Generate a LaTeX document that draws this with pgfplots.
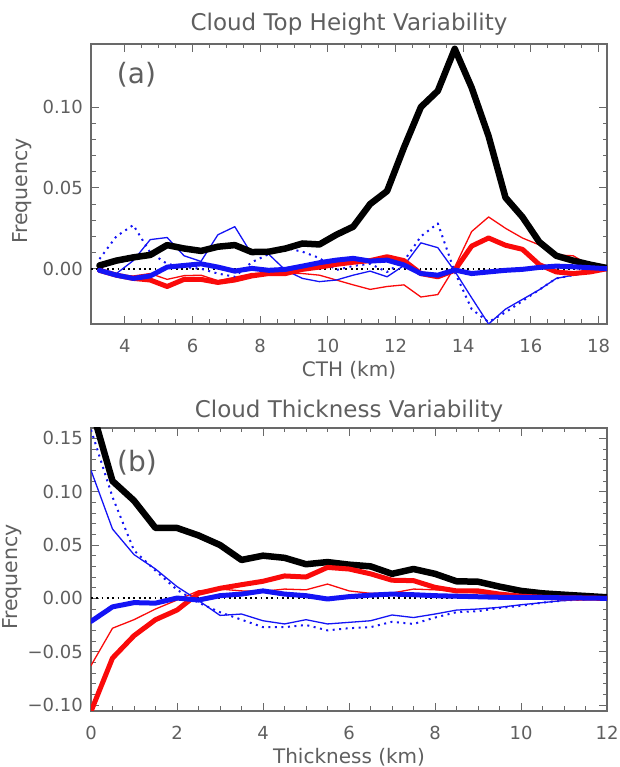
\documentclass[border=0pt]{standalone}
\usepackage{pgfplots}
\pgfplotsset{compat=1.18}
\usepackage{fontspec}
\setmainfont{DejaVu Sans}
\definecolor{txtgray}{RGB}{95,95,95}
\definecolor{axgray}{RGB}{105,105,105}
\definecolor{pblue}{RGB}{20,20,245}
\definecolor{pred}{RGB}{250,10,10}

\pgfplotsset{
  panel/.style={
    scale only axis, width=516pt, anchor=south west,
    axis line style={axgray, line width=1.2pt},
    tick style={axgray, line width=0.9pt},
    major tick length=8pt, minor tick length=4.5pt,
    tick align=inside,
    xticklabel style={anchor=base, yshift=-29pt, inner sep=0pt, text=txtgray, font=\fontsize{18}{18}\selectfont},
    yticklabel style={anchor=east, xshift=-8pt, inner sep=0pt, text=txtgray, font=\fontsize{18}{18}\selectfont},
    clip=true,
    every axis plot/.append style={line join=round, line cap=round},
  },
  zeroline/.style={black, line width=1.8pt, dash pattern=on 1.8pt off 3.5pt, line cap=butt},
  blackthick/.style={black, line width=6.5pt},
  redthick/.style={pred, line width=5pt},
  bluethick/.style={pblue, line width=5pt},
  redthin/.style={pred, line width=1.3pt},
  bluethin/.style={pblue, line width=1.3pt},
  bluedot/.style={pblue, line width=2pt, dash pattern=on 2pt off 4.5pt, line cap=butt},
}

\pgfplotstableread{
x      blk      rthk     rthn     bthk     bthn     bdot
3.25   0.002   -0.001    0.000   -0.001   -0.0004   0.006
3.75   0.005   -0.004   -0.004   -0.004   -0.003    0.020
4.25   0.007   -0.006   -0.0045  -0.006    0.005    0.027
4.75   0.0085  -0.007   -0.003   -0.0045   0.018    0.010
5.25   0.0146  -0.011   -0.0066   0.001    0.0193   0.003
5.75   0.0125  -0.0066  -0.0043   0.002    0.008    0.001
6.25   0.011   -0.0066  -0.004    0.003    0.0045   0.000
6.75   0.0136  -0.0085  -0.0074   0.001    0.021   -0.003
7.25   0.0146  -0.007   -0.0053  -0.0015   0.026   -0.005
7.75   0.0103  -0.0045  -0.003    0.0002   0.009    0.004
8.25   0.0105  -0.003   -0.0025  -0.001    0.009    0.009
8.75   0.0125  -0.003   -0.003   -0.0004  -0.001    0.0128
9.25   0.0156  -0.0004  -0.003    0.0016  -0.006    0.0105
9.75   0.015    0.001   -0.004    0.0037  -0.008    0.0066
10.25  0.021    0.0027  -0.007    0.0053  -0.007   -0.0008
10.75  0.026    0.004   -0.010    0.0064  -0.004    0.0017
11.25  0.040    0.005   -0.0128   0.0047  -0.0015   0.003
11.75  0.048    0.0074  -0.011    0.0053  -0.005   -0.002
12.25  0.075    0.005   -0.010    0.0023   0.002    0.0048
12.75  0.100   -0.003   -0.0175  -0.003    0.016    0.020
13.25  0.110   -0.005   -0.016   -0.004    0.013    0.028
13.75  0.136   -0.001    0.001   -0.0008  -0.0015  -0.002
14.25  0.112    0.014    0.023   -0.003   -0.018   -0.025
14.75  0.082    0.019    0.032   -0.002   -0.0342  -0.033
15.25  0.044    0.0145   0.025   -0.001   -0.025   -0.027
15.75  0.032    0.012    0.019   -0.0004  -0.019   -0.020
16.25  0.0165   0.0025   0.0147   0.0008  -0.013   -0.013
16.75  0.008   -0.002    0.0085   0.0016  -0.006   -0.006
17.25  0.005   -0.003    0.008    0.0012  -0.004   -0.004
17.75  0.0025  -0.002    0.002    0.0006  -0.002   -0.002
18.25  0.0004   0.000    0.000    0.000    0.000    0.000
}\tabA

\pgfplotstableread{
x     blk      rthk     rthn     bthk     bthn     bdot
0.0   0.180   -0.106   -0.063   -0.0216   0.120    0.158
0.5   0.110   -0.056   -0.028   -0.008    0.065    0.095
1.0   0.0916  -0.035   -0.020   -0.004    0.041    0.045
1.5   0.066   -0.020   -0.010   -0.0045   0.0275   0.026
2.0   0.066   -0.011   -0.0016   0.0003   0.011    0.008
2.5   0.059    0.0047   0.007   -0.0016  -0.002   -0.004
3.0   0.050    0.0094   0.0087   0.0025  -0.016   -0.013
3.5   0.036    0.0128   0.007    0.004   -0.0147  -0.020
4.0   0.040    0.016    0.0066   0.007   -0.021   -0.027
4.5   0.038    0.021    0.0087   0.004   -0.024   -0.027
5.0   0.032    0.020    0.008    0.0025  -0.020   -0.025
5.5   0.034    0.029    0.0134  -0.0006  -0.024   -0.030
6.0   0.0316   0.0275   0.007    0.0016  -0.0225  -0.028
6.5   0.030    0.023    0.0047   0.003   -0.021   -0.027
7.0   0.023    0.017    0.005    0.004   -0.0156  -0.022
7.5   0.0275   0.0166   0.0087   0.0034  -0.018   -0.024
8.0   0.023    0.0103   0.008    0.0025  -0.0147  -0.018
8.5   0.016    0.007    0.0066   0.002   -0.011   -0.013
9.0   0.0156   0.007    0.005    0.0015  -0.010   -0.012
9.5   0.011    0.004    0.003    0.001   -0.0084  -0.009
10.0  0.007    0.002    0.002    0.001   -0.006   -0.007
10.5  0.0047   0.001    0.001    0.0008  -0.004   -0.004
11.0  0.0034   0.0005   0.0005   0.0005  -0.002   -0.002
11.5  0.0022   0.0002   0.000    0.0003  -0.001   -0.001
12.0  0.001    0.000    0.000    0.000    0.000    0.000
}\tabB

\begin{document}
\begin{tikzpicture}
\useasboundingbox (0pt,0pt) rectangle (619pt,767pt);

% ---------- panel (a)
\begin{axis}[panel, at={(91pt,443pt)}, height=280pt,
  xmin=3, xmax=18.25, ymin=-0.0342, ymax=0.139,
  xtick={4,6,...,18}, xticklabels={4,6,8,10,12,14,16,18},
  minor x tick num=3,
  ytick={0,0.05,0.10}, yticklabels={0.00,0.05,0.10},
  minor y tick num=4]
  \addplot[zeroline] coordinates {(3,0) (18.25,0)};
  \addplot[redthin]  table[x=x,y=rthn] {\tabA};
  \addplot[bluethin] table[x=x,y=bthn] {\tabA};
  \addplot[bluedot]  table[x=x,y=bdot] {\tabA};
  \addplot[blackthick] table[x=x,y=blk] {\tabA};
  \addplot[redthick] table[x=x,y=rthk] {\tabA};
  \addplot[bluethick] table[x=x,y=bthk] {\tabA};
\end{axis}

% ---------- panel (b)
\begin{axis}[panel, at={(91pt,56pt)}, height=283pt,
  xmin=0, xmax=12, ymin=-0.1056, ymax=0.1597,
  xtick={0,2,...,12}, xticklabels={0,2,4,6,8,10,12},
  minor x tick num=3,
  ytick={-0.10,-0.05,0,0.05,0.10,0.15},
  yticklabels={−0.10,−0.05,0.00,0.05,0.10,0.15},
  minor y tick num=4]
  \addplot[zeroline] coordinates {(0,0) (12,0)};
  \addplot[redthin]  table[x=x,y=rthn] {\tabB};
  \addplot[bluethin] table[x=x,y=bthn] {\tabB};
  \addplot[bluedot]  table[x=x,y=bdot] {\tabB};
  \addplot[blackthick] table[x=x,y=blk] {\tabB};
  \addplot[redthick] table[x=x,y=rthk] {\tabB};
  \addplot[bluethick] table[x=x,y=bthk] {\tabB};
\end{axis}

% ---------- texts
\begin{scope}[every node/.style={text=txtgray, inner sep=0pt}]
\node[anchor=base, font=\fontsize{23}{23}\selectfont] at (349pt,736pt) {Cloud Top Height Variability};
\node[anchor=base, font=\fontsize{23}{23}\selectfont] at (349pt,349pt) {Cloud Thickness Variability};
\node[anchor=base, font=\fontsize{20}{20}\selectfont] at (349pt,390pt) {CTH (km)};
\node[anchor=base, font=\fontsize{20}{20}\selectfont] at (349pt,4pt) {Thickness (km)};
\node[anchor=base, rotate=90, font=\fontsize{20.5}{20.5}\selectfont] at (27pt,576pt) {Frequency};
\node[anchor=base, rotate=90, font=\fontsize{20.5}{20.5}\selectfont] at (18pt,190pt) {Frequency};
\node[font=\fontsize{28}{28}\selectfont] at (136.5pt,692pt) {(a)};
\node[font=\fontsize{28}{28}\selectfont] at (137pt,304pt) {(b)};
\end{scope}
\end{tikzpicture}
\end{document}
